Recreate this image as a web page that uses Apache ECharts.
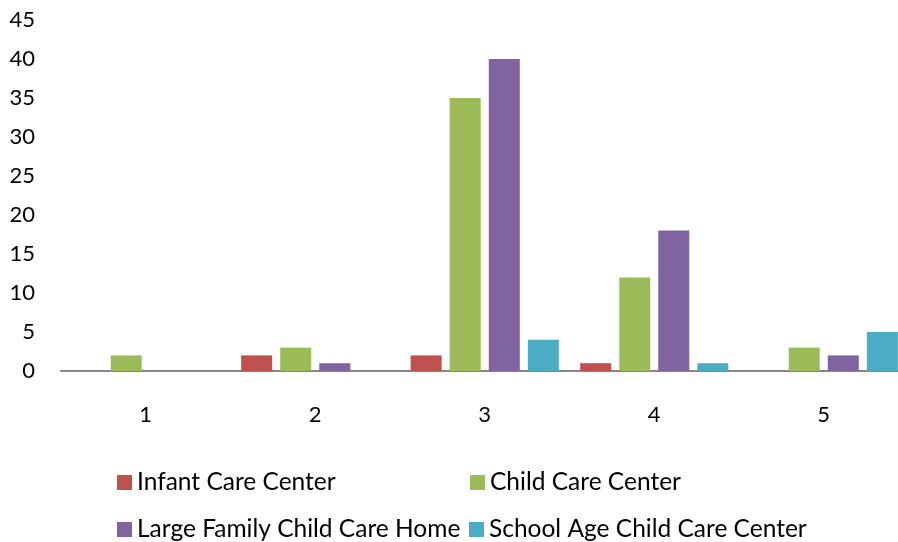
<!DOCTYPE html>
<html>
<head>
<meta charset="utf-8">
<script src="https://cdn.jsdelivr.net/npm/echarts@6/dist/echarts.min.js"></script>
<style>html,body{margin:0;padding:0;background:#fff;overflow:hidden}#c{width:909px;height:542px}</style>
</head>
<body>
<div id="c"></div>
<script>
const categories = ['1', '2', '3', '4', '5'];
const seriesNames = ['Infant Care Center', 'Child Care Center', 'Large Family Child Care Home', 'School Age Child Care Center'];
const infantCare = [0, 2, 2, 1, 0];
const childCare = [2, 3, 35, 12, 3];
const largeFamily = [0, 1, 40, 18, 2];
const schoolAge = [0, 0, 4, 1, 5];
const yTicks = [0, 45, 5];

const colors = ['#C0504D', '#9BBB59', '#8064A2', '#4BACC6'];
const values = [infantCare, childCare, largeFamily, schoolAge];
const font = 'Lato';
const tickFs = 22;
const legendFs = 24.5;

const legendPos = [[117, 470], [470, 470], [117, 517], [469, 517]];

const chart = echarts.init(document.getElementById('c'), null, {renderer: 'canvas'});
chart.setOption({
  animation: false,
  textStyle: {fontFamily: font},
  grid: {left: 61, top: 20, right: 0.5, height: 351, containLabel: false},
  legend: seriesNames.map((n, i) => ({
    data: [n], left: legendPos[i][0], top: legendPos[i][1],
    icon: 'rect', itemWidth: 15, itemHeight: 15, padding: 0,
    textStyle: {fontFamily: font, fontSize: legendFs, color: '#000'}
  })),
  xAxis: {
    type: 'category', data: categories,
    axisLine: {lineStyle: {color: '#868686', width: 2}},
    axisTick: {show: false},
    axisLabel: {fontFamily: font, fontSize: tickFs, color: '#000', margin: 33},
    splitLine: {show: false}
  },
  yAxis: {
    type: 'value', min: yTicks[0], max: yTicks[1], interval: yTicks[2],
    axisLine: {show: false}, axisTick: {show: false},
    splitLine: {show: false},
    axisLabel: {fontFamily: font, fontSize: tickFs, color: '#000', margin: 26}
  },
  series: seriesNames.map((n, i) => ({
    name: n, type: 'bar', data: values[i],
    barWidth: 31, barGap: '26%',
    itemStyle: {color: colors[i]}
  }))
});
</script>
</body>
</html>
